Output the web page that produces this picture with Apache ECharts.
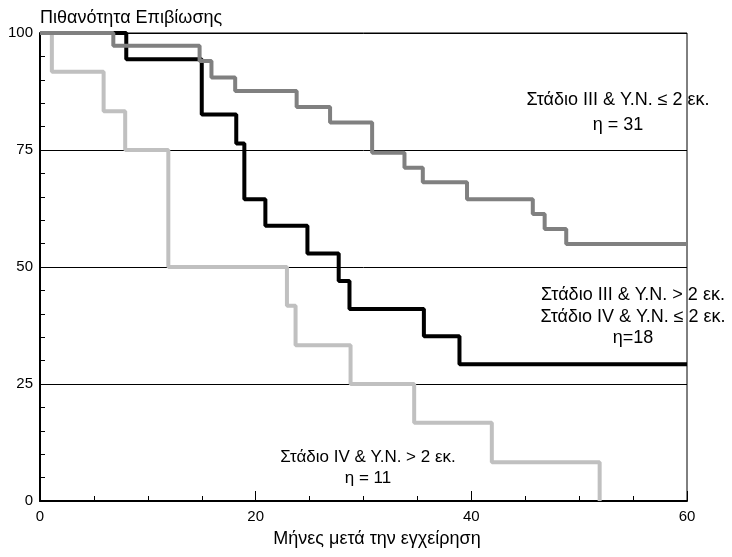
<!DOCTYPE html>
<html>
<head>
<meta charset="utf-8">
<script src="https://cdn.jsdelivr.net/npm/echarts@6/dist/echarts.min.js"></script>
<style>html,body{margin:0;padding:0;background:#fff;}#c{width:732px;height:557px;}</style>
</head>
<body>
<div id="c"></div>
<script>
// Kaplan-Meier curves: months after surgery and survival probability (%)
const timesLight = [0, 1.1, 5.9, 7.9, 11.9, 22.9, 23.7, 28.8, 34.7, 41.9, 51.9];
const survLight  = [100, 91.7, 83.3, 75, 50, 41.7, 33.3, 25, 16.7, 8.3, 0];

const timesBlack = [0, 8, 15, 18.2, 18.95, 20.9, 24.8, 27.7, 28.7, 35.6, 38.9, 60];
const survBlack  = [100, 94.4, 82.6, 76.4, 64.5, 58.8, 52.9, 47.0, 41.0, 35.2, 29.2, 29.2];

const timesDark = [0, 6.8, 14.8, 15.9, 18.1, 23.8, 26.9, 30.8, 33.8, 35.5, 39.6, 45.7, 46.8, 48.8, 60];
const survDark  = [100, 97.3, 94.0, 90.5, 87.6, 84.2, 80.9, 74.4, 71.2, 68.1, 64.5, 61.3, 58.1, 54.9, 54.9];

const xTicks = [0, 20, 40, 60];
const yTicks = [0, 25, 50, 75, 100];

const yTitle = 'Πιθανότητα Επιβίωσης';
const xTitle = 'Μήνες μετά την εγχείρηση';
const label1 = ['Στάδιο III & Υ.Ν. ≤ 2 εκ.', 'η = 31'];
const label2 = ['Στάδιο III & Υ.Ν. > 2 εκ.', 'Στάδιο IV & Υ.Ν. ≤ 2 εκ.', 'η=18'];
const label3 = ['Στάδιο IV & Υ.Ν. > 2 εκ.', 'η = 11'];

const FONT = 'Liberation Sans, Arial, sans-serif';
const zip = (a, b) => a.map((v, i) => [v, b[i]]);

const chart = echarts.init(document.getElementById('c'));
function txt(lines, x, ys, size) {
  return lines.map((t, i) => ({
    type: 'text', x: x, y: ys[i], z: 100,
    style: { text: t, font: (size || 18) + 'px ' + FONT, fill: '#000', align: 'center', verticalAlign: 'middle' }
  }));
}
chart.setOption({
  animation: false,
  backgroundColor: '#fff',
  grid: { left: 40, right: 45, top: 33, bottom: 56, outerBoundsMode: 'none', containLabel: false,
          show: true, borderColor: '#000', borderWidth: 1, backgroundColor: 'transparent' },
  xAxis: {
    type: 'value', min: xTicks[0], max: xTicks[xTicks.length - 1], interval: 20,
    axisLine: { show: true, lineStyle: { color: '#000', width: 2 } },
    axisTick: { show: true, inside: true, length: 10, lineStyle: { color: '#000', width: 1 } },
    minorTick: { show: true, splitNumber: 4, length: 5, lineStyle: { color: '#000', width: 1 } },
    axisLabel: { fontFamily: FONT, fontSize: 15, color: '#000', margin: 8 },
    splitLine: { show: false }
  },
  yAxis: {
    type: 'value', min: yTicks[0], max: yTicks[yTicks.length - 1], interval: 25,
    name: yTitle, nameLocation: 'end', nameGap: 6,
    nameTextStyle: { fontFamily: FONT, fontSize: 18, color: '#000', align: 'left' },
    axisLine: { show: true, lineStyle: { color: '#000', width: 2 } },
    axisTick: { show: true, inside: true, length: 5, lineStyle: { color: '#000', width: 1 } },
    minorTick: { show: true, splitNumber: 5, length: 5, lineStyle: { color: '#000', width: 1 } },
    axisLabel: { fontFamily: FONT, fontSize: 15, color: '#000', margin: 7 },
    splitLine: { show: true, lineStyle: { color: '#000', width: 1 } }
  },
  series: [
    { type: 'line', step: 'end', data: zip(timesLight, survLight), showSymbol: false, symbol: 'none',
      lineStyle: { color: '#c0c0c0', width: 4 }, z: 2 },
    { type: 'line', step: 'end', data: zip(timesBlack, survBlack), showSymbol: false, symbol: 'none',
      lineStyle: { color: '#000', width: 4 }, z: 3 },
    { type: 'line', step: 'end', data: zip(timesDark, survDark), showSymbol: false, symbol: 'none',
      lineStyle: { color: '#808080', width: 4 }, z: 4 }
  ],
  graphic: [].concat(
    txt([xTitle], 377, [539]),
    txt(label1, 618, [100, 125]),
    txt(label2, 633, [295, 317, 338]),
    txt(label3, 368, [457, 478], 17)
  )
});
</script>
</body>
</html>
